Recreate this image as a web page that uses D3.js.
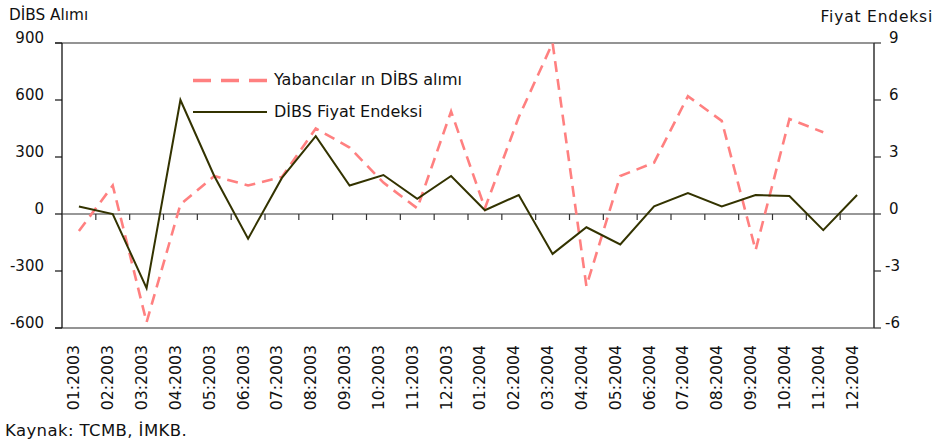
<!DOCTYPE html>
<html>
<head>
<meta charset="utf-8">
<script src="https://cdn.jsdelivr.net/npm/d3@7"></script>
<style>
  html, body { margin: 0; padding: 0; background: #fff; }
  svg { display: block; font-family: "DejaVu Sans", Verdana, sans-serif; }
</style>
</head>
<body>
<svg id="chart" width="939" height="446"></svg>
<script>
// Monthly categories, 2003–2004
const months = ["01:2003","02:2003","03:2003","04:2003","05:2003","06:2003",
                "07:2003","08:2003","09:2003","10:2003","11:2003","12:2003",
                "01:2004","02:2004","03:2004","04:2004","05:2004","06:2004",
                "07:2004","08:2004","09:2004","10:2004","11:2004","12:2004"];

// Foreign purchases of government bonds (left axis); no figure for 12:2004
const foreignPurchases = [-90, 150, -570, 50, 200, 150, 195, 450, 350, 165, 30, 540,
                          30, 510, 900, -380, 200, 270, 620, 490, -190, 500, 430, null];

// Bond price index (right axis)
const priceIndex = [0.4, 0.0, -3.9, 6.0, 2.0, -1.3, 1.9, 4.1, 1.5, 2.05, 0.8, 2.0,
                    0.2, 1.0, -2.1, -0.7, -1.6, 0.4, 1.1, 0.4, 1.0, 0.95, -0.85, 1.0];

const leftTicks = [900, 600, 300, 0, -300, -600];
const rightTicks = [9, 6, 3, 0, -3, -6];

const seriesNames = ["Yabancılar ın DİBS alımı", "DİBS Fiyat Endeksi"];

const svg = d3.select("#chart");
const plot = { left: 62, right: 874, top: 43, bottom: 328 };

const x = d3.scaleBand().domain(months).range([plot.left, plot.right]);
const yL = d3.scaleLinear().domain([-600, 900]).range([plot.bottom, plot.top]);
const yR = d3.scaleLinear().domain([-6, 9]).range([plot.bottom, plot.top]);
const cx = d => x(d) + x.bandwidth() / 2;

const pink = "#ff8080";
const olive = "#333300";

// Plot frame: top and bottom borders
svg.append("line").attr("x1", 55).attr("x2", plot.right)
  .attr("y1", plot.top).attr("y2", plot.top)
  .attr("stroke", "#707070").attr("stroke-width", 1.5);
svg.append("line").attr("x1", 55).attr("x2", plot.right)
  .attr("y1", plot.bottom).attr("y2", plot.bottom)
  .attr("stroke", "#707070").attr("stroke-width", 1.5);

// Left axis
const gL = svg.append("g");
gL.append("line").attr("x1", plot.left).attr("x2", plot.left)
  .attr("y1", plot.top).attr("y2", plot.bottom)
  .attr("stroke", "#111").attr("stroke-width", 1.3);
gL.selectAll("line.tk").data(leftTicks).join("line").attr("class", "tk")
  .attr("x1", 55).attr("x2", plot.left)
  .attr("y1", d => yL(d)).attr("y2", d => yL(d))
  .attr("stroke", "#111").attr("stroke-width", 1.2);
gL.selectAll("text").data(leftTicks).join("text")
  .attr("x", 44).attr("y", d => yL(d) - 0.5)
  .attr("text-anchor", "end").attr("font-size", 15).attr("fill", "#111")
  .text(d => d);

// Right axis
const gR = svg.append("g");
gR.append("line").attr("x1", plot.right).attr("x2", plot.right)
  .attr("y1", plot.top).attr("y2", plot.bottom)
  .attr("stroke", "#333").attr("stroke-width", 1.5);
gR.selectAll("line.tk").data(rightTicks).join("line").attr("class", "tk")
  .attr("x1", plot.right).attr("x2", 881)
  .attr("y1", d => yR(d)).attr("y2", d => yR(d))
  .attr("stroke", "#333").attr("stroke-width", 1.2);
gR.selectAll("text").data(rightTicks).join("text")
  .attr("x", d => d < 0 ? 885 : 889).attr("y", d => yR(d))
  .attr("text-anchor", "start").attr("font-size", 15).attr("fill", "#111")
  .text(d => d);

// Category axis along zero with tick marks at band boundaries
const y0 = yL(0);
svg.append("line").attr("x1", plot.left).attr("x2", plot.right)
  .attr("y1", y0).attr("y2", y0).attr("stroke", "#333").attr("stroke-width", 1.2);
svg.selectAll("line.xt").data(months.slice(1)).join("line").attr("class", "xt")
  .attr("x1", d => x(d)).attr("x2", d => x(d))
  .attr("y1", y0).attr("y2", y0 + 6)
  .attr("stroke", "#333").attr("stroke-width", 1.2);

// Rotated month labels
svg.selectAll("text.xl").data(months).join("text").attr("class", "xl")
  .attr("transform", d => `translate(${cx(d) + 0.5},345) rotate(-90)`)
  .attr("text-anchor", "end").attr("font-size", 15.7).attr("fill", "#111")
  .text(d => d);

// Series lines
const linePurch = d3.line()
  .defined(d => d.v !== null)
  .x(d => cx(d.m)).y(d => yL(d.v));
const lineIndex = d3.line().x(d => cx(d.m)).y(d => yR(d.v));

svg.append("path")
  .datum(months.map((m, i) => ({ m, v: foreignPurchases[i] })))
  .attr("d", linePurch).attr("fill", "none")
  .attr("stroke", pink).attr("stroke-width", 2.6)
  .attr("stroke-dasharray", "11,7");

svg.append("path")
  .datum(months.map((m, i) => ({ m, v: priceIndex[i] })))
  .attr("d", lineIndex).attr("fill", "none")
  .attr("stroke", olive).attr("stroke-width", 2)
  .attr("stroke-linejoin", "miter");

// Legend
const legend = svg.append("g");
legend.append("line").attr("x1", 193).attr("x2", 267).attr("y1", 80.5).attr("y2", 80.5)
  .attr("stroke", pink).attr("stroke-width", 3.5).attr("stroke-dasharray", "18,10");
legend.append("text").attr("x", 274).attr("y", 85).attr("font-size", 16)
  .attr("fill", "#111").text(seriesNames[0]);
legend.append("line").attr("x1", 193).attr("x2", 267).attr("y1", 112).attr("y2", 112)
  .attr("stroke", olive).attr("stroke-width", 2);
legend.append("text").attr("x", 274).attr("y", 117).attr("font-size", 16)
  .attr("fill", "#111").text(seriesNames[1]);

// Axis titles and source note
svg.append("text").attr("x", 9).attr("y", 20).attr("font-size", 15.3).attr("fill", "#111")
  .text("DİBS Alımı");
svg.append("text").attr("x", 933).attr("y", 22).attr("text-anchor", "end")
  .attr("font-size", 15.5).attr("letter-spacing", 0.8).attr("fill", "#111")
  .text("Fiyat Endeksi");
svg.append("text").attr("x", 5).attr("y", 436).attr("font-size", 16.5)
  .attr("letter-spacing", 0.4).attr("fill", "#111")
  .text("Kaynak: TCMB, İMKB.");
</script>
</body>
</html>
